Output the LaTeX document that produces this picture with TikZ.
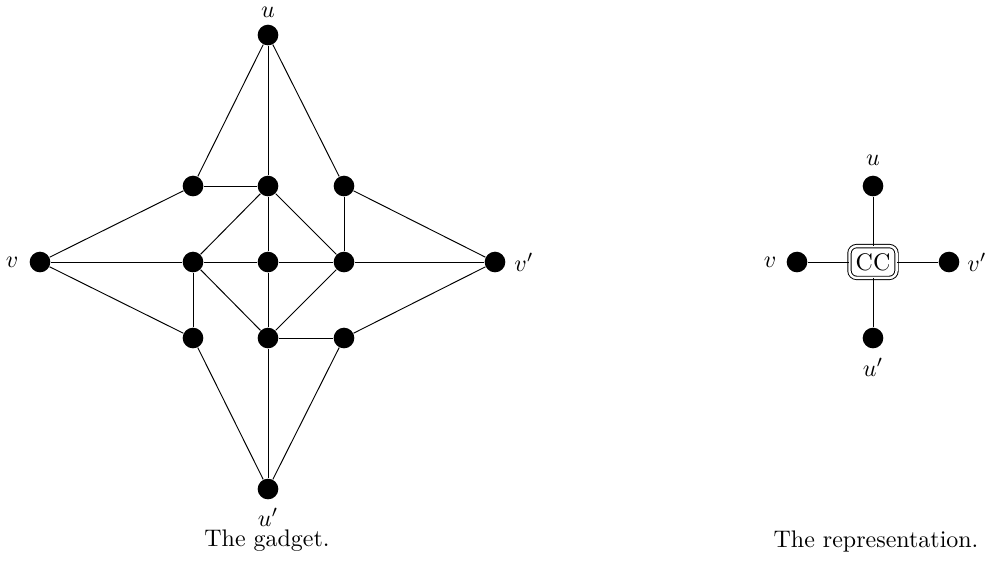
\documentclass[tikz,border=0pt]{standalone}
\begin{document}
\begin{tikzpicture}[x=0.417pt,y=-0.417pt,
  vtx/.style={circle,fill=black,inner sep=0pt,minimum size=8.6pt},
  lbl/.style={inner sep=0pt},
  edge/.style={draw=black,line width=0.4pt},
  cc/.style={draw,double,double distance=1pt,rounded corners=3pt,inner xsep=2.6pt,inner ysep=3pt}]
\useasboundingbox (0,0) rectangle (987,561);
% gadget
\node[vtx] (u) at (268,35) {};
\node[vtx] (v) at (40,262) {};
\node[vtx] (vp) at (495,262) {};
\node[vtx] (up) at (268,489) {};
\node[vtx] (a1) at (193,186) {};
\node[vtx] (a2) at (268,186) {};
\node[vtx] (a3) at (344,186) {};
\node[vtx] (b1) at (193,262) {};
\node[vtx] (b2) at (268,262) {};
\node[vtx] (b3) at (344,262) {};
\node[vtx] (c1) at (193,338) {};
\node[vtx] (c2) at (268,338) {};
\node[vtx] (c3) at (344,338) {};
\draw[edge] (u) -- (a1);
\draw[edge] (u) -- (a2);
\draw[edge] (u) -- (a3);
\draw[edge] (a1) -- (a2);
\draw[edge] (a2) -- (b2);
\draw[edge] (a2) -- (b1);
\draw[edge] (a2) -- (b3);
\draw[edge] (a3) -- (b3);
\draw[edge] (v) -- (a1);
\draw[edge] (v) -- (b1);
\draw[edge] (v) -- (c1);
\draw[edge] (vp) -- (a3);
\draw[edge] (vp) -- (b3);
\draw[edge] (vp) -- (c3);
\draw[edge] (b1) -- (b2);
\draw[edge] (b2) -- (b3);
\draw[edge] (b1) -- (c1);
\draw[edge] (b1) -- (c2);
\draw[edge] (b3) -- (c2);
\draw[edge] (b2) -- (c2);
\draw[edge] (c2) -- (c3);
\draw[edge] (up) -- (c1);
\draw[edge] (up) -- (c2);
\draw[edge] (up) -- (c3);
\node[lbl] (lu) at (268,12) {$u$};
\node[lbl] (lv) at (12,262) {$v$};
\node[lbl] (lvp) at (524,262) {$v'$};
\node[lbl] (lup) at (268,517) {$u'$};
\node[lbl] (cap1) at (267,541) {The gadget.};
% representation
\node[cc] (CC) at (873,262) {CC};
\node[vtx] (ru) at (873,186) {};
\node[vtx] (rv) at (797,262) {};
\node[vtx] (rvp) at (949,262) {};
\node[vtx] (rup) at (873,338) {};
\draw[edge] (ru) -- (CC);
\draw[edge] (rv) -- (CC);
\draw[edge] (rvp) -- (CC);
\draw[edge] (rup) -- (CC);
\node[lbl] (rlu) at (873,160) {$u$};
\node[lbl] (rlv) at (770,262) {$v$};
\node[lbl] (rlvp) at (977,262) {$v'$};
\node[lbl] (rlup) at (873,367) {$u'$};
\node[lbl] (cap2) at (876,541) {The representation.};
\end{tikzpicture}
\end{document}
